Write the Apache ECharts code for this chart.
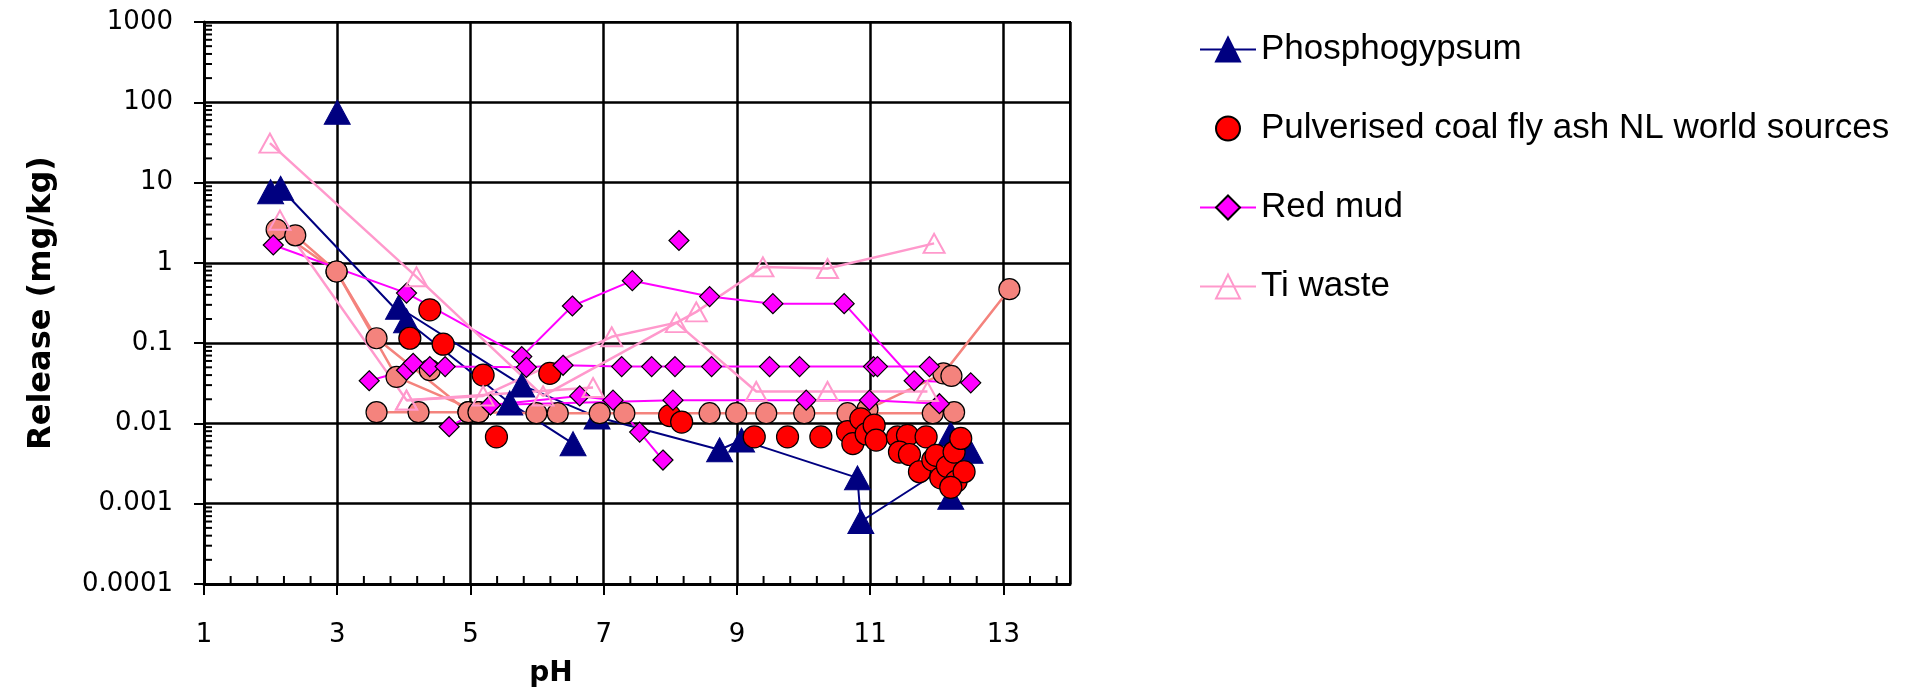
<!DOCTYPE html>
<html>
<head>
<meta charset="utf-8">
<script src="https://cdn.jsdelivr.net/npm/echarts@6/dist/echarts.min.js"></script>
<style>
  html, body { margin: 0; padding: 0; background: #fff; }
  #chart { width: 1909px; height: 696px; }
</style>
</head>
<body>
<div id="chart"></div>
<script>
// pH / release (mg/kg) pairs
const phosphoLineA = [[2.15, 8.5], [4.04, 0.19], [5.59, 0.018], [6.54, 0.0056]]
const phosphoLineB = [[3.92, 0.28], [5.77, 0.03], [6.9, 0.012], [8.74, 0.0047], [9.07, 0.0062],
  [10.81, 0.0021], [10.86, 0.0006], [12.5, 0.0045]]
const phosphoPoints = [[2.0, 7.7], [3.0, 75], [12.21, 0.0012], [12.21, 0.0074]]

const flyAshNL = [[4.39, 0.26], [4.09, 0.115], [4.59, 0.097], [5.19, 0.04], [5.39, 0.0068], [6.19, 0.042],
  [7.99, 0.0125], [8.17, 0.0104], [9.26, 0.0068], [9.76, 0.0068], [10.26, 0.0068],
  [10.66, 0.0079], [10.74, 0.0056], [10.86, 0.0114], [10.94, 0.0074], [11.06, 0.0095], [11.09, 0.0062],
  [11.41, 0.0068], [11.56, 0.0071], [11.44, 0.0044], [11.59, 0.0041], [11.84, 0.0068],
  [11.74, 0.0025], [11.94, 0.0035], [11.99, 0.004], [12.06, 0.0021], [12.16, 0.0029], [12.26, 0.0044],
  [12.36, 0.0065], [12.29, 0.0019], [12.41, 0.0025], [12.21, 0.0016]]

// other fly ash sources (salmon), not in the legend
const flyAshOtherA = [[3.59, 0.0138], [4.22, 0.0138], [4.97, 0.0138], [5.12, 0.0138], [5.99, 0.0134],
  [6.31, 0.0134], [6.94, 0.0134], [7.31, 0.0134], [8.59, 0.0134], [8.99, 0.0134], [9.44, 0.0134],
  [10.01, 0.0134], [10.66, 0.0134], [11.94, 0.0134], [12.26, 0.0138]]
const flyAshOtherB = [[2.09, 2.6], [2.99, 0.78], [3.59, 0.115], [4.97, 0.0138]]
const flyAshOtherC = [[2.37, 2.2], [2.99, 0.78], [3.89, 0.038], [5.12, 0.0138]]
const flyAshOtherD = [[10.96, 0.015], [12.1, 0.042], [13.09, 0.47]]
const flyAshOtherPts = [[4.39, 0.046], [12.22, 0.039]]

const redMudA = [[2.04, 1.67], [4.04, 0.42], [5.77, 0.068], [6.53, 0.29], [7.43, 0.6], [8.59, 0.38],
  [9.54, 0.31], [10.61, 0.31], [11.66, 0.034], [12.51, 0.032]]
const redMudB = [[3.48, 0.034], [4.04, 0.046], [4.14, 0.056], [4.39, 0.051], [4.62, 0.051], [5.84, 0.05],
  [6.39, 0.053], [7.27, 0.051], [7.72, 0.051], [8.07, 0.051], [8.62, 0.051], [9.49, 0.051],
  [9.94, 0.051], [11.05, 0.051], [11.11, 0.051], [11.89, 0.051]]
const redMudC = [[4.68, 0.0091], [5.3, 0.017], [6.64, 0.022], [7.14, 0.0195], [7.54, 0.0078], [7.89, 0.0035]]
const redMudD = [[5.3, 0.017], [8.04, 0.0195], [10.04, 0.0195], [10.99, 0.0195], [12.04, 0.0176]]
const redMudPts = [[8.13, 1.9]]

const tiWasteA = [[1.99, 31], [4.19, 0.67], [6.09, 0.022], [8.39, 0.245], [9.39, 0.89], [10.36, 0.85], [11.96, 1.75]]
const tiWasteB = [[2.14, 3.4], [4.04, 0.0195], [5.19, 0.022], [7.12, 0.12], [8.09, 0.18], [9.29, 0.025],
  [10.36, 0.025], [11.86, 0.025]]
const tiWasteC = [[4.04, 0.0195], [6.84, 0.028]]

const legendNames = ['Phosphogypsum', 'Pulverised coal fly ash NL world sources', 'Red mud', 'Ti waste']

// minor tick positions (log decades on y, 0.4 pH steps on x)
const yMinorTicks = []
for (let e = -4; e < 3; e++) {
  for (let m = 2; m <= 9; m++) yMinorTicks.push(m * Math.pow(10, e))
}
const xMinorTicks = []
for (let i = 0; i <= 32; i++) {
  if (i % 5 !== 0) xMinorTicks.push(+(1 + i * 0.4).toFixed(1))
}

const NAVY = '#000080'
const MAGENTA = '#FF00FF'
const PINK = '#FF99CC'
const SALMON = '#F4837D'
const FONT = 'DejaVu Sans'

// line series; markers only when withLine is false
const phospho = (data, withLine) => ({
  name: legendNames[0],
  type: 'line',
  data,
  symbol: 'triangle',
  symbolSize: [26, 24],
  lineStyle: { color: NAVY, width: withLine ? 2 : 0, opacity: withLine ? 1 : 0 },
  itemStyle: { color: NAVY, borderColor: NAVY, borderWidth: 1 },
})
const salmon = (data, withLine) => ({
  name: 'Pulverised coal fly ash other sources',
  type: 'line',
  data,
  symbol: 'circle',
  symbolSize: 21,
  lineStyle: { color: SALMON, width: withLine ? 2.5 : 0, opacity: withLine ? 1 : 0 },
  itemStyle: { color: SALMON, borderColor: '#000', borderWidth: 1.2 },
})
const redMud = (data, withLine) => ({
  name: legendNames[2],
  type: 'line',
  data,
  symbol: 'diamond',
  symbolSize: 20,
  lineStyle: { color: MAGENTA, width: withLine ? 2 : 0, opacity: withLine ? 1 : 0 },
  itemStyle: { color: MAGENTA, borderColor: '#000', borderWidth: 1.2 },
})
const tiWaste = (data) => ({
  name: legendNames[3],
  type: 'line',
  data,
  symbol: 'triangle',
  symbolSize: [21, 19],
  lineStyle: { color: PINK, width: 2.5 },
  itemStyle: { color: 'rgba(255,255,255,0)', borderColor: PINK, borderWidth: 2 },
})

const minorTicks = {
  type: 'custom',
  silent: true,
  clip: false,
  z: 5,
  data: yMinorTicks.map((v) => [1, v, 'y']).concat(xMinorTicks.map((v) => [v, 0.0001, 'x'])),
  renderItem: (params, api) => {
    const p = api.coord([api.value(0), api.value(1)])
    const isY = api.value(2) === 'y'
    return {
      type: 'line',
      shape: isY
        ? { x1: p[0], y1: p[1], x2: p[0] + 8, y2: p[1] }
        : { x1: p[0], y1: p[1], x2: p[0], y2: p[1] - 8 },
      style: { stroke: '#000', lineWidth: 2 },
    }
  },
}

const chart = echarts.init(document.getElementById('chart'))
chart.setOption({
  animation: false,
  backgroundColor: '#fff',
  grid: {
    left: 204, right: 839, top: 22, bottom: 112,
    show: true, borderColor: '#000', borderWidth: 2,
  },
  legend: {
    data: legendNames,
    orient: 'vertical',
    left: 1194,
    top: 27,
    itemWidth: 56,
    itemHeight: 30,
    itemGap: 44,
    textStyle: { fontFamily: 'Liberation Sans', fontSize: 35, color: '#000' },
  },
  xAxis: {
    type: 'value',
    min: 1,
    max: 14,
    interval: 2,
    name: 'pH',
    nameLocation: 'middle',
    nameGap: 76,
    nameTextStyle: { fontFamily: FONT, fontWeight: 'bold', fontSize: 28, color: '#000', padding: [0, 172, 0, 0] },
    axisLine: { lineStyle: { color: '#000', width: 3 } },
    axisTick: { length: 11, lineStyle: { color: '#000', width: 2 } },
    axisLabel: { margin: 38, showMaxLabel: false, fontFamily: FONT, fontSize: 26, color: '#000' },
    splitLine: { lineStyle: { color: '#000', width: 2.5 } },
  },
  yAxis: {
    type: 'log',
    logBase: 10,
    min: 0.0001,
    max: 1000,
    splitNumber: 7,
    interval: 1,
    name: 'Release (mg/kg)',
    nameLocation: 'middle',
    nameRotate: 90,
    nameGap: 146,
    nameTextStyle: { fontFamily: FONT, fontWeight: 'bold', fontSize: 32, color: '#000' },
    axisLine: { lineStyle: { color: '#000', width: 3 } },
    axisTick: { length: 10, lineStyle: { color: '#000', width: 2 } },
    axisLabel: {
      margin: 31,
      fontFamily: FONT,
      fontSize: 26,
      color: '#000',
      formatter: (v) => (v >= 1 ? String(Math.round(v)) : v.toFixed(Math.round(-Math.log10(v)))),
    },
    splitLine: { lineStyle: { color: '#000', width: 2.5 } },
  },
  series: [
    phospho(phosphoLineA, true),
    phospho(phosphoLineB, true),
    phospho(phosphoPoints, false),
    salmon(flyAshOtherA, true),
    salmon(flyAshOtherB, true),
    salmon(flyAshOtherC, true),
    salmon(flyAshOtherD, true),
    salmon(flyAshOtherPts, false),
    {
      // markers only; kept as a line series so its legend icon matches the others in size
      name: legendNames[1],
      type: 'line',
      data: flyAshNL,
      symbol: 'circle',
      symbolSize: 22,
      lineStyle: { width: 0, opacity: 0 },
      itemStyle: { color: '#FF0000', borderColor: '#000', borderWidth: 1.2 },
    },
    redMud(redMudA, true),
    redMud(redMudB, true),
    redMud(redMudC, true),
    redMud(redMudD, true),
    redMud(redMudPts, false),
    tiWaste(tiWasteA),
    tiWaste(tiWasteB),
    tiWaste(tiWasteC),
    minorTicks,
  ],
})
</script>
</body>
</html>
